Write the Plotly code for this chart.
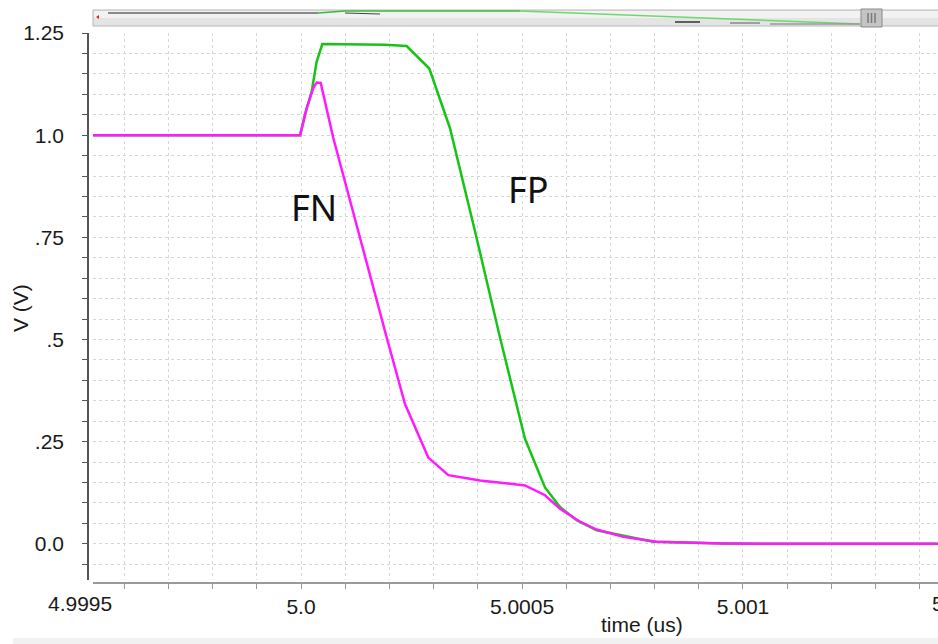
import plotly.graph_objects as go

# ---- data (time in us, voltage in V) ----
fp_t = [4.999529, 4.999998, 5.000009, 5.0000242, 5.0000355, 5.0000482, 5.00019, 5.0002391,
        5.0002903, 5.0003371, 5.0003937, 5.0004502, 5.0005068, 5.000552, 5.000586, 5.0006237,
        5.000669, 5.0007292, 5.000797, 5.0009554, 5.0010837, 5.001441]
fp_v = [1.0, 1.0, 1.050, 1.107, 1.180, 1.223, 1.221, 1.218,
        1.163, 1.017, 0.765, 0.505, 0.257, 0.138, 0.090, 0.058,
        0.033, 0.019, 0.005, 0.001, 0.0, 0.0]

fn_t = [4.999529, 4.999998, 5.0000129, 5.0000278, 5.0000355, 5.0000446, 5.0000731, 5.000107,
        5.0001448, 5.0001939, 5.0002353, 5.000288, 5.0003333, 5.000405, 5.0005068, 5.000552,
        5.000586, 5.0006312, 5.000669, 5.0007292, 5.0008047, 5.0009554, 5.0010837, 5.001441]
fn_v = [1.0, 1.0, 1.066, 1.115, 1.129, 1.128, 0.993, 0.855,
        0.700, 0.505, 0.342, 0.211, 0.168, 0.155, 0.143, 0.119,
        0.086, 0.054, 0.035, 0.017, 0.005, 0.001, 0.0, 0.0]

x_range = [4.9995294, 5.0014412]
y_range = [-0.0885, 1.25]

x_tickvals = [5.0, 5.0005, 5.001]
x_ticktext = ["5.0", "5.0005", "5.001"]
x_edge_vals = [4.9995, 5.0015]
x_edge_text = ["4.9995", "5.0015"]
y_tickvals = [0.0, 0.25, 0.5, 0.75, 1.0, 1.25]
y_ticktext = ["0.0", ".25", ".5", ".75", "1.0", "1.25"]

W, H = 938, 644
ML, MT, MB = 88, 33, 61
PW, PH = W - ML, H - MT - MB
XD0 = 5 / PW
YD0 = 3 / PH

def px_x(p):
    return (p - ML) / PW

def px_y(p):
    return (H - MB - p) / PH

def data_to_paper_x(v):
    return XD0 + (v - x_range[0]) / (x_range[1] - x_range[0]) * (1 - XD0)

TF = "Liberation Sans, Arial, sans-serif"
GRID = "#d6d6d6"

fig = go.Figure()
fig.add_trace(go.Scatter(x=fp_t, y=fp_v, mode="lines", line=dict(color="#16c416", width=2.5),
                         showlegend=False, hoverinfo="skip"))
fig.add_trace(go.Scatter(x=fn_t, y=fn_v, mode="lines", line=dict(color="#ff1aff", width=2.5),
                         showlegend=False, hoverinfo="skip"))

fig.update_layout(
    width=W, height=H,
    margin=dict(l=ML, r=0, t=MT, b=MB, pad=0),
    paper_bgcolor="white", plot_bgcolor="white",
    showlegend=False,
    xaxis=dict(
        range=x_range, domain=[XD0, 1], anchor="free", position=0,
        showline=True, linecolor="#9a9a9a", linewidth=2,
        ticks="outside", ticklen=5, tickcolor="#9a9a9a",
        tickmode="array", tickvals=x_tickvals, ticktext=x_ticktext,
        tickfont=dict(family=TF, size=21, color="#1a1a1a"),
        showgrid=True, gridcolor=GRID, griddash="dot", gridwidth=1,
        zeroline=False,
        minor=dict(tickmode="linear", tick0=4.9995, dtick=0.0001, ticks="outside", ticklen=5,
                   tickcolor="#9a9a9a", showgrid=True, gridcolor=GRID, griddash="dot"),
    ),
    yaxis=dict(
        range=y_range, domain=[YD0, 1], anchor="free", position=0,
        showline=True, linecolor="#555555", linewidth=1.5,
        ticks="outside", ticklen=5, tickcolor="#555555",
        tickmode="array", tickvals=y_tickvals, ticktext=y_ticktext,
        tickfont=dict(family=TF, size=21, color="#1a1a1a"),
        ticklabelstandoff=14,
        showgrid=True, gridcolor=GRID, griddash="dot", gridwidth=1,
        zeroline=False,
        minor=dict(tickmode="linear", tick0=0, dtick=0.05, ticks="outside", ticklen=5,
                   tickcolor="#555555", showgrid=True, gridcolor=GRID, griddash="dot"),
    ),
)

shapes = []
# white boxes behind labels (hide grid, below traces)
shapes.append(dict(type="rect", xref="paper", yref="paper", layer="between",
                   x0=px_x(487), x1=px_x(570), y0=px_y(232), y1=px_y(135),
                   fillcolor="white", line=dict(width=0)))
shapes.append(dict(type="rect", xref="paper", yref="paper", layer="between",
                   x0=px_x(286), x1=px_x(346), y0=px_y(230), y1=px_y(182),
                   fillcolor="white", line=dict(width=0)))
# overview scrollbar at top
shapes.append(dict(type="rect", xref="paper", yref="paper", layer="above",
                   x0=px_x(93), x1=px_x(940), y0=px_y(26), y1=px_y(10),
                   fillcolor="#e4e4e4", line=dict(color="#b8b8b8", width=1)))
shapes.append(dict(type="rect", xref="paper", yref="paper", layer="above",
                   x0=px_x(94), x1=px_x(940), y0=px_y(18), y1=px_y(11),
                   fillcolor="#f2f2f2", line=dict(width=0)))
shapes.append(dict(type="line", xref="paper", yref="paper", layer="above",
                   x0=px_x(108), x1=px_x(318), y0=px_y(13), y1=px_y(13),
                   line=dict(color="#666666", width=1.5)))
shapes.append(dict(type="line", xref="paper", yref="paper", layer="above",
                   x0=px_x(318), x1=px_x(345), y0=px_y(13), y1=px_y(11),
                   line=dict(color="#3cb83c", width=1.5)))
shapes.append(dict(type="line", xref="paper", yref="paper", layer="above",
                   x0=px_x(345), x1=px_x(520), y0=px_y(11), y1=px_y(11),
                   line=dict(color="#3cb83c", width=1.5)))
shapes.append(dict(type="line", xref="paper", yref="paper", layer="above",
                   x0=px_x(520), x1=px_x(860), y0=px_y(11), y1=px_y(24),
                   line=dict(color="#6fd66f", width=1.5)))
shapes.append(dict(type="line", xref="paper", yref="paper", layer="above",
                   x0=px_x(345), x1=px_x(380), y0=px_y(13), y1=px_y(14),
                   line=dict(color="#444444", width=1.2)))
shapes.append(dict(type="line", xref="paper", yref="paper", layer="above",
                   x0=px_x(675), x1=px_x(700), y0=px_y(22), y1=px_y(22),
                   line=dict(color="#333333", width=1.5)))
shapes.append(dict(type="line", xref="paper", yref="paper", layer="above",
                   x0=px_x(730), x1=px_x(760), y0=px_y(23), y1=px_y(23),
                   line=dict(color="#888888", width=1.5)))
shapes.append(dict(type="line", xref="paper", yref="paper", layer="above",
                   x0=px_x(770), x1=px_x(860), y0=px_y(24), y1=px_y(24),
                   line=dict(color="#9a9a9a", width=1.5)))
shapes.append(dict(type="rect", xref="paper", yref="paper", layer="above",
                   x0=px_x(861), x1=px_x(882), y0=px_y(27), y1=px_y(9),
                   fillcolor="#c4c4c4", line=dict(color="#8a8a8a", width=1)))
for gx in (868, 871.5, 875):
    shapes.append(dict(type="line", xref="paper", yref="paper", layer="above",
                       x0=px_x(gx), x1=px_x(gx), y0=px_y(23), y1=px_y(13),
                       line=dict(color="#7a7a7a", width=1.5)))
shapes.append(dict(type="path", xref="paper", yref="paper", layer="above",
                   path=f"M {px_x(96)} {px_y(17)} L {px_x(99)} {px_y(15)} L {px_x(99)} {px_y(19)} Z",
                   fillcolor="#dd2222", line=dict(width=0)))
# bottom status strip
shapes.append(dict(type="rect", xref="paper", yref="paper", layer="above",
                   x0=px_x(13), x1=px_x(940), y0=px_y(646), y1=px_y(638),
                   fillcolor="#f1f1f1", line=dict(width=0)))
fig.update_layout(shapes=shapes)

ann = []
ann.append(dict(text="FN", xref="paper", yref="paper", x=px_x(314), y=px_y(207),
                xanchor="center", yanchor="middle", showarrow=False,
                font=dict(family="Noto Sans, Open Sans, sans-serif", size=36, color="#111111")))
ann.append(dict(text="FP", xref="paper", yref="paper", x=px_x(528), y=px_y(190),
                xanchor="center", yanchor="middle", showarrow=False,
                font=dict(family="Noto Sans, Open Sans, sans-serif", size=36, color="#111111")))
for v, t in zip(x_edge_vals, x_edge_text):
    ann.append(dict(text=t, xref="paper", yref="paper", x=data_to_paper_x(v), y=px_y(603),
                    xanchor="center", yanchor="middle", showarrow=False,
                    font=dict(family=TF, size=21, color="#1a1a1a")))
ann.append(dict(text="time (us)", xref="paper", yref="paper", x=px_x(642), y=px_y(624),
                xanchor="center", yanchor="middle", showarrow=False,
                font=dict(family=TF, size=21, color="#1a1a1a")))
ann.append(dict(text="V (V)", xref="paper", yref="paper", x=px_x(20), y=px_y(308),
                xanchor="center", yanchor="middle", showarrow=False, textangle=-90,
                font=dict(family=TF, size=21, color="#1a1a1a")))
fig.update_layout(annotations=ann)

fig.write_html("out.html")
